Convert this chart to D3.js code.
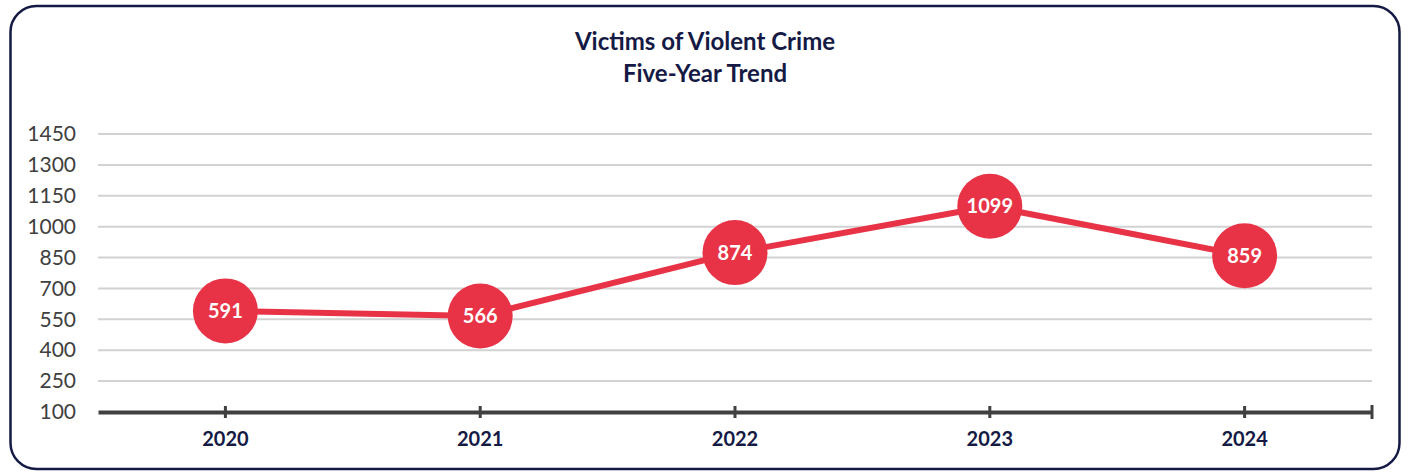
<!DOCTYPE html>
<html>
<head>
<meta charset="utf-8">
<script src="https://cdn.jsdelivr.net/npm/d3@7"></script>
<style>
  html, body { margin: 0; padding: 0; background: #ffffff; }
  svg { display: block; }
</style>
</head>
<body>
<svg id="chart" width="1408" height="472"></svg>
<script>
// Victims of violent crime, yearly totals
const years = ["2020", "2021", "2022", "2023", "2024"];
const victims = [591, 566, 874, 1099, 859];
const yTicks = [100, 250, 400, 550, 700, 850, 1000, 1150, 1300, 1450];
const titleLines = ["Victims of Violent Crime", "Five-Year Trend"];

const navy = "#151a45";
const red = "#e83346";
const axisGrey = "#404040";
const font = "Lato, 'Open Sans', sans-serif";

const svg = d3.select("#chart");

// rounded frame
svg.append("rect")
  .attr("x", 10.5).attr("y", 6)
  .attr("width", 1389).attr("height", 463)
  .attr("rx", 26).attr("ry", 26)
  .attr("fill", "#fff")
  .attr("stroke", navy).attr("stroke-width", 2.5);

// title
svg.append("g").selectAll("text")
  .data(titleLines)
  .join("text")
  .attr("x", 705)
  .attr("y", (d, i) => 50 + i * 32)
  .attr("text-anchor", "middle")
  .attr("font-family", font)
  .attr("font-weight", 700)
  .attr("font-size", 24)
  .attr("fill", navy)
  .text(d => d);

const plot = { left: 98, right: 1372, top: 134, bottom: 412 };

const x = d3.scaleBand()
  .domain(years)
  .range([plot.left, plot.right])
  .paddingInner(0).paddingOuter(0);

const y = d3.scaleLinear()
  .domain([100, 1450])
  .range([plot.bottom, plot.top]);

const cx = d => x(d) + x.bandwidth() / 2;

// horizontal gridlines
svg.append("g")
  .selectAll("line")
  .data(yTicks.filter(t => t !== 100))
  .join("line")
  .attr("x1", plot.left).attr("x2", plot.right)
  .attr("y1", d => y(d)).attr("y2", d => y(d))
  .attr("stroke", "#d2d2d2")
  .attr("stroke-width", 2);

// y-axis labels
const yAxis = d3.axisLeft(y).tickValues(yTicks).tickFormat(d3.format("d")).tickSize(0).tickPadding(0);
const yg = svg.append("g")
  .attr("transform", `translate(76,0)`)
  .call(yAxis);
yg.select(".domain").remove();
yg.selectAll("text")
  .attr("font-family", font)
  .attr("font-size", 21)
  .attr("fill", "#404040");

// category axis along the baseline
const xAxis = d3.axisBottom(x).tickSizeInner(6).tickSizeOuter(0).tickPadding(14);
const xg = svg.append("g")
  .attr("transform", `translate(0,${plot.bottom})`)
  .call(xAxis);
xg.select(".domain")
  .attr("stroke", axisGrey)
  .attr("stroke-width", 4);
xg.selectAll(".tick line")
  .attr("y1", -6)
  .attr("y2", 6)
  .attr("stroke", axisGrey)
  .attr("stroke-width", 3);
xg.selectAll(".tick text")
  .attr("font-family", font)
  .attr("font-weight", 700)
  .attr("font-size", 20)
  .attr("fill", navy);
// closing tick at the right end of the axis
xg.append("line")
  .attr("x1", plot.right).attr("x2", plot.right)
  .attr("y1", -7).attr("y2", 7)
  .attr("stroke", axisGrey)
  .attr("stroke-width", 3);

// trend line
const line = d3.line()
  .x((d, i) => cx(years[i]))
  .y(d => y(d));
svg.append("path")
  .datum(victims)
  .attr("d", line)
  .attr("fill", "none")
  .attr("stroke", red)
  .attr("stroke-width", 6)
  .attr("stroke-linejoin", "round");

// markers with value labels
const pts = svg.append("g").selectAll("g")
  .data(victims)
  .join("g")
  .attr("transform", (d, i) => `translate(${cx(years[i])},${y(d)})`);
pts.append("circle")
  .attr("r", 32.5)
  .attr("fill", red);
pts.append("text")
  .attr("text-anchor", "middle")
  .attr("dy", "0.35em")
  .attr("font-family", font)
  .attr("font-weight", 700)
  .attr("font-size", 20)
  .attr("fill", "#fff")
  .text(d => d);
</script>
</body>
</html>
